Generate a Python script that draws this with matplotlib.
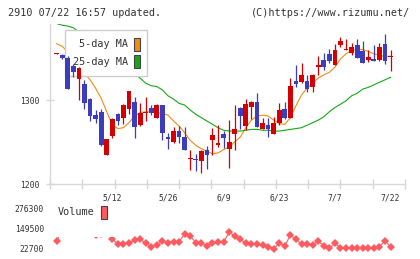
import numpy as np
import matplotlib
matplotlib.use("Agg")
import matplotlib.pyplot as plt
from matplotlib.patches import Rectangle

# daily candles, 4/23 .. 7/22
opens = [1355, 1354, 1350, 1340, 1325, 1319, 1301, 1282, 1286, 1235,
         1257, 1283, 1279, 1289, 1298, 1270, 1284, 1291, 1279, 1294,
         1256, 1250, 1263, 1256, 1230, 1230, 1227, 1240, 1252, 1247,
         1259, 1242, 1260, 1291, 1269, 1292, 1298, 1266, 1270, 1259,
         1273, 1289, 1279, 1323, 1322, 1323, 1316, 1339, 1348, 1355,
         1342, 1365, 1360, 1356, 1365, 1358, 1348, 1348, 1348, 1367,
         1351]
closes = [1356, 1350, 1313, 1333, 1338, 1297, 1281, 1277, 1246, 1254,
          1277, 1275, 1294, 1311, 1268, 1285, 1286, 1285, 1294, 1261,
          1254, 1263, 1256, 1240, 1231, 1228, 1239, 1234, 1258, 1249,
          1255, 1250, 1266, 1281, 1295, 1298, 1268, 1273, 1266, 1273,
          1288, 1278, 1317, 1319, 1330, 1313, 1330, 1342, 1339, 1347,
          1360, 1370, 1361, 1363, 1350, 1344, 1351, 1347, 1363, 1346,
          1352]
highs = [1356, 1355, 1352, 1343, 1339, 1324, 1302, 1288, 1289, 1254,
         1278, 1285, 1295, 1311, 1304, 1297, 1303, 1294, 1295, 1294,
         1261, 1268, 1269, 1268, 1240, 1236, 1240, 1245, 1267, 1270,
         1263, 1276, 1294, 1292, 1301, 1299, 1308, 1278, 1279, 1280,
         1296, 1298, 1326, 1342, 1344, 1330, 1331, 1352, 1356, 1361,
         1367, 1375, 1373, 1368, 1373, 1370, 1359, 1365, 1368, 1379,
         1360]
lows = [1355, 1349, 1313, 1327, 1300, 1289, 1275, 1273, 1245, 1235,
        1255, 1270, 1272, 1283, 1255, 1269, 1275, 1282, 1278, 1252,
        1242, 1249, 1249, 1240, 1217, 1216, 1213, 1218, 1234, 1244,
        1243, 1219, 1240, 1265, 1264, 1277, 1268, 1265, 1256, 1259,
        1270, 1277, 1278, 1316, 1320, 1309, 1310, 1330, 1336, 1344,
        1342, 1363, 1359, 1354, 1350, 1344, 1345, 1347, 1347, 1343,
        1335]
ma5 = [1367, 1364, 1357, 1348, 1339, 1332, 1324, 1314, 1302, 1286,
       1270, 1266, 1267, 1273, 1281, 1285, 1286, 1286, 1285, 1284,
       1282, 1275, 1269, 1261, 1252, 1246, 1242, 1239, 1236, 1237,
       1241, 1244, 1250, 1256, 1267, 1276, 1281, 1282, 1281, 1276,
       1272, 1271, 1279, 1293, 1306, 1314, 1320, 1326, 1330, 1333,
       1339, 1349, 1355, 1359, 1360, 1360, 1358, 1355, 1353, 1352,
       1352]
ma25 = [1391, 1389, 1388, 1386, 1381, 1376, 1371, 1366, 1361, 1356,
        1351, 1346, 1341, 1336, 1331, 1326, 1320, 1317, 1316, 1312,
        1305, 1301, 1296, 1294, 1288, 1283, 1279, 1275, 1271, 1267,
        1264, 1263, 1263, 1263, 1264, 1265, 1265, 1264, 1264, 1263,
        1263, 1264, 1265, 1266, 1267, 1270, 1273, 1276, 1280, 1286,
        1291, 1295, 1299, 1305, 1308, 1313, 1315, 1318, 1321, 1324,
        1327]
volume = [73400, 150000, 276300, 210000, 170000, 140000, 125000, 114600, 120000, 130000,
          86100, 54400, 54400, 62600, 77900, 86100, 58800, 37300, 48000, 75300,
          62600, 69000, 69000, 117800, 105100, 62600, 62600, 41700, 62600, 67100,
          67100, 128600, 105100, 84200, 58800, 54400, 54400, 48000, 37300, 22700,
          62600, 41700, 111500, 86100, 52500, 52500, 48000, 73400, 41700, 27100,
          58800, 27100, 27100, 27100, 27100, 27100, 27100, 27100, 37300, 73400,
          37300]
date_idx = [10, 20, 30, 40, 50, 60]
date_labels = ["5/12", "5/26", "6/9", "6/23", "7/7", "7/22"]
price_ticks = [1200, 1300]
vol_ticks = [22700, 149500, 276300]

RED = "#d40000"
BLUE = "#3c3cbe"
ORANGE = "#f08c10"
GREEN = "#14a814"
VOLC = "#ff5a60"
GRID = "#d8d8d8"
TXT = "#333333"
MONO = "DejaVu Sans Mono"

plt.rcParams["font.family"] = MONO

W, H = 420, 259
fig = plt.figure(figsize=(W / 100, H / 100), dpi=100)

def px_axes(l, t, r, b):
    return fig.add_axes([l / W, 1 - b / H, (r - l) / W, (b - t) / H])

x = np.arange(len(closes))
o = np.array(opens); c = np.array(closes)
xlim = (-1.2, 62.6)

# ---- price panel
ax = px_axes(50, 24.4, 405, 184)
ax.set_xlim(*xlim)
ax.set_ylim(1200, 1390)

ax.plot(x, ma5, color=ORANGE, lw=0.8, zorder=2)
ax.plot(x, ma25, color=GREEN, lw=0.8, zorder=2)

cols = [RED if cc >= oo else BLUE for oo, cc in zip(o, c)]
ax.vlines(x, lows, highs, colors=cols, lw=0.9, zorder=6)
ax.bar(x, np.maximum(np.abs(c - o), 1.3), bottom=np.minimum(o, c), width=0.85,
       color=cols, linewidth=0, zorder=6)

for s in ["top", "right"]:
    ax.spines[s].set_visible(False)
for s in ["left", "bottom"]:
    ax.spines[s].set_color(GRID)
    ax.spines[s].set_linewidth(1.0)

ax.set_xticks(np.linspace(xlim[0], xlim[1], 12))
ax.set_xticklabels([])
ax.set_xticks(date_idx, date_labels, minor=True)
ax.tick_params(axis="x", which="major", direction="inout", length=7, width=1, color=GRID)
ax.tick_params(axis="x", which="minor", length=0, pad=6.5, labelsize=5.8, labelcolor=TXT)
ax.set_yticks(price_ticks)
ax.tick_params(axis="y", direction="inout", length=6, width=1, color=GRID,
               pad=4.5, labelsize=5.8, labelcolor=TXT)

h1 = Rectangle((0, 0), 1, 1, facecolor=ORANGE, edgecolor="#444444", lw=0.8)
h2 = Rectangle((0, 0), 1, 1, facecolor=GREEN, edgecolor="#444444", lw=0.8)
leg = ax.legend([h1, h2], ["5-day MA", "25-day MA"], loc="upper left",
                bbox_to_anchor=(0.042, 0.965), markerfirst=False, fontsize=7.3,
                handlelength=0.6, handleheight=1.6, handletextpad=0.6,
                borderpad=0.75, labelspacing=0.45, fancybox=False,
                framealpha=1, edgecolor="#cccccc", borderaxespad=0)
leg.get_frame().set_linewidth(1.0)
leg.set_zorder(5)
for t in leg.get_texts():
    t.set_color(TXT)

# ---- volume panel
av = px_axes(50, 209, 405, 249)
av.set_xlim(*xlim)
av.set_ylim(vol_ticks[0], vol_ticks[-1])
av.plot(x, volume, color=VOLC, lw=0.8, marker="D", markersize=4.5,
        markeredgewidth=0, clip_on=False, zorder=2)
for s in av.spines.values():
    s.set_visible(False)
av.set_xticks([])
av.set_yticks(vol_ticks)
av.tick_params(axis="y", length=0, pad=4.3, labelsize=5.8, labelcolor=TXT)

av.add_patch(Rectangle((0.014, 0.3), 0.17, 0.8, transform=av.transAxes,
                       facecolor="white", edgecolor="none", zorder=4, clip_on=False))
hv = Rectangle((0, 0), 1, 1, facecolor=VOLC, edgecolor="#444444", lw=0.8)
lv = av.legend([hv], ["Volume"], loc="upper left", bbox_to_anchor=(0.012, 1.16),
               markerfirst=False, fontsize=7.3, handlelength=0.6, handleheight=1.6,
               handletextpad=0.7, borderpad=0.3, frameon=False, borderaxespad=0)
lv.set_zorder(5)
for t in lv.get_texts():
    t.set_color(TXT)

# ---- header
fig.text(8 / W, 1 - 13 / H, "2910 07/22 16:57 updated.", fontsize=7.3,
         color=TXT, ha="left", va="center")
fig.text(410 / W, 1 - 13 / H, "(C)https://www.rizumu.net/", fontsize=7.3,
         color=TXT, ha="right", va="center")

fig.savefig("out.png", dpi=100)
